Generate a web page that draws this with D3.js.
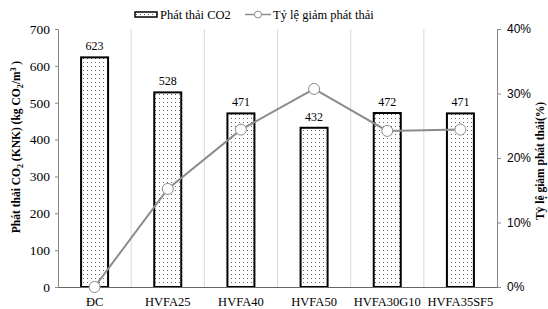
<!DOCTYPE html>
<html>
<head>
<meta charset="utf-8">
<script src="https://cdn.jsdelivr.net/npm/d3@7"></script>
<style>
  body { margin: 0; background: #fff; }
  svg text { font-family: "Liberation Serif", "Times New Roman", serif; }
</style>
</head>
<body>
<div id="chart"></div>
<script>
// data
const categories = ["ĐC", "HVFA25", "HVFA40", "HVFA50", "HVFA30G10", "HVFA35SF5"];
const emissions = [623, 528, 471, 432, 472, 471];
const reduction = [0, 15.2, 24.4, 30.7, 24.2, 24.4];
const leftTicks = [0, 100, 200, 300, 400, 500, 600, 700];
const rightTicks = [0, 10, 20, 30, 40];

const width = 548, height = 309;
const margin = { top: 29, right: 51, bottom: 22, left: 58 };
const innerW = width - margin.left - margin.right;
const innerH = height - margin.top - margin.bottom;

const svg = d3.select("#chart").append("svg")
    .attr("width", width)
    .attr("height", height);

// dotted fill for the bars
const pat = svg.append("defs").append("pattern")
    .attr("id", "dots")
    .attr("patternUnits", "userSpaceOnUse")
    .attr("width", 4).attr("height", 4);
pat.append("rect").attr("width", 4).attr("height", 4).attr("fill", "#fff");
pat.append("rect").attr("x", 1).attr("y", 1).attr("width", 1).attr("height", 1).attr("fill", "#666");

const g = svg.append("g").attr("transform", `translate(${margin.left},${margin.top})`);

const x = d3.scaleBand().domain(categories).range([0, innerW]);
const y = d3.scaleLinear().domain([0, 700]).range([innerH, 0]);
const y2 = d3.scaleLinear().domain([0, 40]).range([innerH, 0]);

// vertical gridlines between categories
g.selectAll(".grid")
    .data(categories.slice(1))
    .enter().append("line")
    .attr("x1", d => x(d)).attr("x2", d => x(d))
    .attr("y1", 0).attr("y2", innerH)
    .attr("stroke", "#d9d9d9")
    .attr("stroke-width", 1);

// bars
const barW = 27;
g.selectAll(".bar")
    .data(emissions)
    .enter().append("rect")
    .attr("x", (d, i) => x(categories[i]) + x.bandwidth() / 2 - barW / 2)
    .attr("y", d => y(d))
    .attr("width", barW)
    .attr("height", d => innerH - y(d))
    .attr("fill", "url(#dots)")
    .attr("stroke", "#000")
    .attr("stroke-width", 2);

// value labels
g.selectAll(".val")
    .data(emissions)
    .enter().append("text")
    .attr("x", (d, i) => x(categories[i]) + x.bandwidth() / 2)
    .attr("y", d => y(d) - 7)
    .attr("text-anchor", "middle")
    .attr("font-size", 12)
    .text(d => d);

// left axis
const axL = g.append("g").call(d3.axisLeft(y).tickValues(leftTicks).tickSize(3).tickPadding(5));
axL.select(".domain").attr("stroke", "#888");
axL.selectAll(".tick line").attr("stroke", "#888");
axL.selectAll("text").attr("font-size", 13.5).attr("fill", "#000").style("font-family", "Liberation Serif");

// right axis
const axR = g.append("g").attr("transform", `translate(${innerW},0)`)
    .call(d3.axisRight(y2).tickValues(rightTicks).tickSize(4).tickPadding(6).tickFormat(d => d + "%"));
axR.select(".domain").attr("stroke", "#888");
axR.selectAll(".tick line").attr("stroke", "#888");
axR.selectAll("text").attr("font-size", 12).attr("fill", "#000").style("font-family", "Liberation Sans");

// bottom axis
const axB = g.append("g").attr("transform", `translate(0,${innerH})`)
    .call(d3.axisBottom(x).tickSize(0).tickPadding(10));
axB.select(".domain").attr("stroke", "#666");
axB.selectAll("text").attr("font-size", 12.5).attr("fill", "#000").style("font-family", "Liberation Serif");

// reduction line
const line = d3.line()
    .x((d, i) => x(categories[i]) + x.bandwidth() / 2)
    .y(d => y2(d));
g.append("path")
    .datum(reduction)
    .attr("fill", "none")
    .attr("stroke", "#8c8c8c")
    .attr("stroke-width", 2)
    .attr("d", line);
g.selectAll(".pt")
    .data(reduction)
    .enter().append("circle")
    .attr("cx", (d, i) => x(categories[i]) + x.bandwidth() / 2)
    .attr("cy", d => y2(d))
    .attr("r", 5.5)
    .attr("fill", "#fff")
    .attr("stroke", "#8c8c8c")
    .attr("stroke-width", 1);

// axis titles
const lt = svg.append("text")
    .attr("transform", `translate(20,147) rotate(-90)`)
    .attr("text-anchor", "middle")
    .attr("font-size", 11.5)
    .attr("font-weight", "bold");
lt.append("tspan").text("Phát thải CO");
lt.append("tspan").attr("font-size", 8).attr("dy", 3).text("2");
lt.append("tspan").attr("dy", -3).text(" (KNK) (kg CO");
lt.append("tspan").attr("font-size", 8).attr("dy", 3).text("2");
lt.append("tspan").attr("dy", -3).text("/m");
lt.append("tspan").attr("font-size", 8).attr("dy", -4).text("3");
lt.append("tspan").attr("dy", 4).text(" )");

svg.append("text")
    .attr("transform", `translate(544,161) rotate(-90)`)
    .attr("text-anchor", "middle")
    .attr("font-size", 11.5)
    .attr("font-weight", "bold")
    .text("Tỷ lệ giảm phát thải(%)");

// legend
const lg = svg.append("g").attr("transform", "translate(135,9)");
lg.append("rect").attr("x", 0).attr("y", 3).attr("width", 22).attr("height", 5)
    .attr("fill", "url(#dots)").attr("stroke", "#000").attr("stroke-width", 1.5);
lg.append("text").attr("x", 25).attr("y", 9.5).attr("font-size", 12.5).text("Phát thải CO2");
lg.append("line").attr("x1", 110).attr("x2", 136).attr("y1", 5.5).attr("y2", 5.5)
    .attr("stroke", "#8c8c8c").attr("stroke-width", 1.5);
lg.append("circle").attr("cx", 123).attr("cy", 5.5).attr("r", 3.5)
    .attr("fill", "#fff").attr("stroke", "#8c8c8c");
lg.append("text").attr("x", 138).attr("y", 9.5).attr("font-size", 12.5).text("Tỷ lệ giảm phát thải");
</script>
</body>
</html>
